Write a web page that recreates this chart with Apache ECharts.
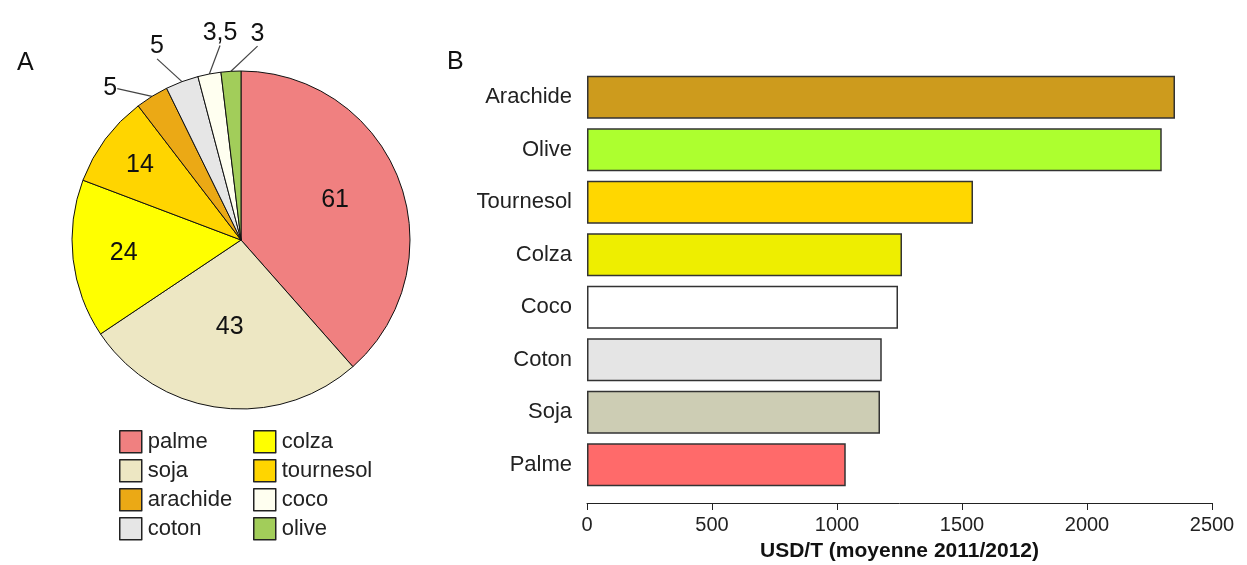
<!DOCTYPE html>
<html>
<head>
<meta charset="utf-8">
<script src="https://cdn.jsdelivr.net/npm/echarts@6/dist/echarts.min.js"></script>
<style>
  html, body { margin: 0; padding: 0; background: #fff; }
  #chart { width: 1247px; height: 565px; }
</style>
</head>
<body>
<div id="chart"></div>
<script>
// A : production (Mt) par huile
const pieNames = ['palme', 'soja', 'colza', 'tournesol', 'arachide', 'coton', 'coco', 'olive'];
const pieValues = [61, 43, 24, 14, 5, 5, 3.5, 3];
const pieLabels = ['61', '43', '24', '14', '5', '5', '3,5', '3'];
const pieColors = ['#F08080', '#EDE7C3', '#FFFF00', '#FFD500', '#EBA915', '#E6E6E6', '#FFFFF0', '#A2CD5A'];
const legendCol1 = ['palme', 'soja', 'arachide', 'coton'];
const legendCol2 = ['colza', 'tournesol', 'coco', 'olive'];

// B : prix moyen USD/T
const barCats = ['Arachide', 'Olive', 'Tournesol', 'Colza', 'Coco', 'Coton', 'Soja', 'Palme'];
const barValues = [2352, 2299, 1544, 1260, 1244, 1179, 1172, 1035];
const barColors = ['#CD9B1D', '#ADFF2F', '#FFD700', '#EEEE00', '#FFFFFF', '#E5E5E5', '#CDCDB4', '#FF6A6A'];
const xTicks = [0, 500, 1000, 1500, 2000, 2500];

const FONT = '"Liberation Sans", Arial, sans-serif';
const PIE_CENTER = [241, 240];
const PIE_R = 169;
// placement des étiquettes : distance au centre et petit décalage d'angle (degrés)
const labelPlace = {
  0: { dist: 102, turn: -2 },
  1: { dist: 88, turn: 0 },
  2: { dist: 118, turn: 0 },
  3: { dist: 126, turn: 0 },
  4: { dist: 200, turn: -9, out: true },
  5: { dist: 211, turn: -3, out: true },
  6: { dist: 208, turn: 5, out: true },
  7: { dist: 207, turn: 8, out: true },
};

// angle médian de chaque part, depuis midi, sens horaire
const total = pieValues.reduce((a, b) => a + b, 0);
let acc = 0;
const midAngles = pieValues.map(v => {
  const m = (acc + v / 2) / total * 360;
  acc += v;
  return m;
});

const chart = echarts.init(document.getElementById('chart'));

const pieData = pieNames.map((name, i) => {
  const item = {
    name,
    value: pieValues[i],
    itemStyle: { color: pieColors[i] },
    label: { formatter: pieLabels[i] },
  };
  if (labelPlace[i].out) {
    item.label.position = 'outside';
    item.labelLine = { show: true, length: 10, length2: 0 };
  }
  return item;
});

const legendBase = {
  orient: 'vertical',
  top: 425,
  itemWidth: 22,
  itemHeight: 22,
  itemGap: 5.5,
  icon: 'rect',
  selectedMode: false,
  itemStyle: { borderColor: '#222', borderWidth: 1.5 },
  textStyle: { fontFamily: FONT, fontSize: 22, color: '#222', padding: [0, 0, 0, 1] },
};

chart.setOption({
  animation: false,
  backgroundColor: '#fff',
  title: [
    { text: 'A', left: 12, top: 46, textStyle: { fontFamily: FONT, fontSize: 25, fontWeight: 'normal', color: '#111' } },
    { text: 'B', left: 442, top: 45, textStyle: { fontFamily: FONT, fontSize: 25, fontWeight: 'normal', color: '#111' } },
  ],
  legend: [
    Object.assign({}, legendBase, { left: 114, data: legendCol1 }),
    Object.assign({}, legendBase, { left: 248, data: legendCol2 }),
  ],
  grid: { left: 587, right: 35, top: 71, height: 420, outerBoundsMode: 'none' },
  xAxis: {
    type: 'value',
    min: 0,
    max: 2500,
    interval: 500,
    offset: 12,
    axisLine: { show: true, lineStyle: { color: '#222', width: 1 } },
    axisTick: { show: true, length: 7, lineStyle: { color: '#222' } },
    splitLine: { show: false },
    axisLabel: {
      margin: 12,
      fontFamily: FONT,
      fontSize: 20,
      color: '#222',
      formatter: v => (xTicks.indexOf(v) >= 0 ? String(v) : ''),
    },
    name: 'USD/T (moyenne 2011/2012)',
    nameLocation: 'middle',
    nameGap: 38,
    nameTextStyle: { fontFamily: FONT, fontSize: 21, fontWeight: 'bold', color: '#111' },
  },
  yAxis: {
    type: 'category',
    data: barCats,
    inverse: true,
    axisLine: { show: false },
    axisTick: { show: false },
    axisLabel: { margin: 15, fontFamily: FONT, fontSize: 22, color: '#222' },
  },
  series: [
    {
      type: 'pie',
      center: PIE_CENTER,
      radius: [0, PIE_R],
      startAngle: 90,
      clockwise: true,
      avoidLabelOverlap: false,
      silent: true,
      itemStyle: { borderColor: '#111', borderWidth: 1 },
      label: {
        position: 'inside',
        fontFamily: FONT,
        fontSize: 25,
        color: '#111',
      },
      labelLine: { lineStyle: { color: '#444', width: 1.2 } },
      labelLayout: params => {
        const p = labelPlace[params.dataIndex];
        const a = (midAngles[params.dataIndex] + p.turn) * Math.PI / 180;
        return {
          x: PIE_CENTER[0] + p.dist * Math.sin(a),
          y: PIE_CENTER[1] - p.dist * Math.cos(a),
          align: 'center',
          verticalAlign: 'middle',
        };
      },
      data: pieData,
    },
    {
      type: 'bar',
      barWidth: 43,
      silent: true,
      itemStyle: { borderColor: '#333', borderWidth: 1.5 },
      data: barValues.map((v, i) => ({ value: v, itemStyle: { color: barColors[i] } })),
    },
  ],
});
</script>
</body>
</html>
